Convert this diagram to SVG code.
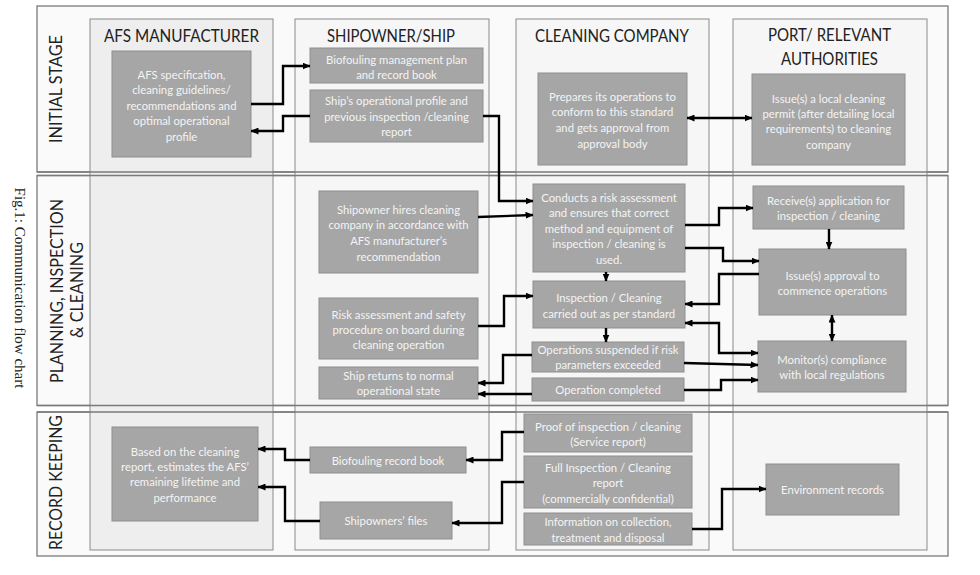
<svg xmlns="http://www.w3.org/2000/svg" width="980" height="575" viewBox="0 0 980 575">
<defs>
<marker id="ah" viewBox="0 0 8 7" refX="7.5" refY="3.5" markerWidth="8" markerHeight="7" markerUnits="userSpaceOnUse" orient="auto-start-reverse">
<path d="M0,0 L8,3.5 L0,7 z" fill="#000"/>
</marker>
<style>
.band{fill:#fafafa;stroke:#7a7a7a;stroke-width:1.3}
.lane{fill:#f6f6f6;stroke:#8a8a8a;stroke-width:1}
.lane.afs{fill:#eeeeee}
.hdr{font-family:Lato,"Open Sans",sans-serif;font-size:17.5px;fill:#222;text-anchor:middle;dominant-baseline:central}
.row{font-family:Lato,"Open Sans",sans-serif;font-size:17.5px;fill:#222;text-anchor:middle;dominant-baseline:central}
.cap{font-family:"Liberation Serif",serif;font-size:15px;fill:#222;text-anchor:middle;dominant-baseline:central}
.box{fill:#a6a6a6;stroke:#8e8e8e;stroke-width:1}
.t{font-family:Lato,"Open Sans",sans-serif;font-size:11.3px;fill:#f4f4f4;text-anchor:middle;dominant-baseline:central}
.c{fill:none;stroke:#000;stroke-width:2.4;marker-end:url(#ah)}
.d{marker-start:url(#ah)}
</style>
</defs>
<rect width="980" height="575" fill="#ffffff"/>

<g id="bands">
<rect class="band" x="37" y="6" width="911" height="166"/>
<rect class="band" x="37" y="175.5" width="911" height="230"/>
<rect class="band" x="37" y="412" width="911" height="144"/>
</g>

<g id="lanes">
<rect class="lane afs" x="90" y="19" width="183" height="531"/>
<rect class="lane" x="295" y="19" width="194" height="531"/>
<rect class="lane" x="516" y="19" width="193" height="531"/>
<rect class="lane" x="733" y="19" width="194" height="531"/>
<line x1="37" y1="172" x2="948" y2="172" stroke="#7a7a7a" stroke-width="1.3"/>
<line x1="37" y1="175.5" x2="948" y2="175.5" stroke="#7a7a7a" stroke-width="1.3"/>
<line x1="37" y1="405.5" x2="948" y2="405.5" stroke="#7a7a7a" stroke-width="1.3"/>
<line x1="37" y1="412" x2="948" y2="412" stroke="#7a7a7a" stroke-width="1.3"/>
</g>

<g id="headers">
<text class="hdr" x="181.5" y="35" textLength="155" lengthAdjust="spacingAndGlyphs">AFS MANUFACTURER</text>
<text class="hdr" x="391" y="35" textLength="128" lengthAdjust="spacingAndGlyphs">SHIPOWNER/SHIP</text>
<text class="hdr" x="612" y="35" textLength="154" lengthAdjust="spacingAndGlyphs">CLEANING COMPANY</text>
<text class="hdr" x="829.5" y="34" textLength="123" lengthAdjust="spacingAndGlyphs">PORT/ RELEVANT</text>
<text class="hdr" x="829.5" y="58" textLength="97" lengthAdjust="spacingAndGlyphs">AUTHORITIES</text>
</g>

<g id="rowlabels">
<text class="row" transform="translate(55,89) rotate(-90)" textLength="108" lengthAdjust="spacingAndGlyphs">INITIAL STAGE</text>
<text class="row" transform="translate(56,291) rotate(-90)" textLength="184" lengthAdjust="spacingAndGlyphs">PLANNING, INSPECTION</text>
<text class="row" transform="translate(76,290) rotate(-90)" textLength="96" lengthAdjust="spacingAndGlyphs">&amp; CLEANING</text>
<text class="row" transform="translate(55,482.5) rotate(-90)" textLength="135" lengthAdjust="spacingAndGlyphs">RECORD KEEPING</text>
<text class="cap" transform="translate(20,288) rotate(90)">Fig.1: Communication flow chart</text>
</g>

<g id="A1"><rect class="box" x="112" y="51" width="139" height="106"/>
<text class="t" x="181.5" y="74">AFS specification,</text>
<text class="t" x="181.5" y="89.5">cleaning guidelines/</text>
<text class="t" x="181.5" y="105">recommendations and</text>
<text class="t" x="181.5" y="120.5">optimal operational</text>
<text class="t" x="181.5" y="136">profile</text></g>

<g id="A2"><rect class="box" x="112" y="427" width="146" height="94"/>
<text class="t" x="185" y="451">Based on the cleaning</text>
<text class="t" x="185" y="466.3">report, estimates the AFS’</text>
<text class="t" x="185" y="481.7">remaining lifetime and</text>
<text class="t" x="185" y="497">performance</text></g>

<g id="S1"><rect class="box" x="310" y="48" width="173" height="35"/>
<text class="t" x="396.5" y="59">Biofouling management plan</text>
<text class="t" x="396.5" y="74">and record book</text></g>

<g id="S2"><rect class="box" x="310" y="90" width="173" height="52"/>
<text class="t" x="396.5" y="100.5">Ship’s operational profile and</text>
<text class="t" x="396.5" y="116">previous inspection /cleaning</text>
<text class="t" x="396.5" y="131.5">report</text></g>

<g id="S3"><rect class="box" x="319" y="191" width="159" height="82"/>
<text class="t" x="398.5" y="209">Shipowner hires cleaning</text>
<text class="t" x="398.5" y="224.7">company in accordance with</text>
<text class="t" x="398.5" y="240.3">AFS manufacturer’s</text>
<text class="t" x="398.5" y="256">recommendation</text></g>

<g id="S4"><rect class="box" x="319" y="298" width="159" height="61"/>
<text class="t" x="398.5" y="314">Risk assessment and safety</text>
<text class="t" x="398.5" y="329">procedure on board during</text>
<text class="t" x="398.5" y="344">cleaning operation</text></g>

<g id="S5"><rect class="box" x="319" y="367" width="159" height="32"/>
<text class="t" x="398.5" y="375.5">Ship returns to normal</text>
<text class="t" x="398.5" y="390.5">operational state</text></g>

<g id="S6"><rect class="box" x="310" y="447" width="156" height="26"/>
<text class="t" x="388" y="460.5">Biofouling record book</text></g>

<g id="S7"><rect class="box" x="320" y="502" width="132" height="37"/>
<text class="t" x="386" y="520.5">Shipowners’ files</text></g>

<g id="C1"><rect class="box" x="538" y="73" width="149" height="92"/>
<text class="t" x="612.5" y="96">Prepares its operations to</text>
<text class="t" x="612.5" y="111.7">conform to this standard</text>
<text class="t" x="612.5" y="127.3">and gets approval from</text>
<text class="t" x="612.5" y="143">approval body</text></g>

<g id="C2"><rect class="box" x="533" y="184" width="152" height="88"/>
<text class="t" x="609" y="197">Conducts a risk assessment</text>
<text class="t" x="609" y="212.5">and ensures that correct</text>
<text class="t" x="609" y="228">method and equipment of</text>
<text class="t" x="609" y="243.5">inspection / cleaning is</text>
<text class="t" x="609" y="259">used.</text></g>

<g id="C3"><rect class="box" x="533" y="281" width="152" height="47"/>
<text class="t" x="609" y="297">Inspection / Cleaning</text>
<text class="t" x="609" y="313">carried out as per standard</text></g>

<g id="C4"><rect class="box" x="532" y="342" width="152" height="30"/>
<text class="t" x="608" y="349.5">Operations suspended if risk</text>
<text class="t" x="608" y="364.5">parameters exceeded</text></g>

<g id="C5"><rect class="box" x="532" y="378" width="152" height="23"/>
<text class="t" x="608" y="389.5">Operation completed</text></g>

<g id="C6"><rect class="box" x="524" y="414" width="168" height="38"/>
<text class="t" x="608" y="426">Proof of inspection / cleaning</text>
<text class="t" x="608" y="441.5">(Service report)</text></g>

<g id="C7"><rect class="box" x="524" y="456" width="168" height="52"/>
<text class="t" x="608" y="467">Full Inspection / Cleaning</text>
<text class="t" x="608" y="482.5">report</text>
<text class="t" x="608" y="498">(commercially confidential)</text></g>

<g id="C8"><rect class="box" x="524" y="513" width="168" height="32"/>
<text class="t" x="608" y="521.5">Information on collection,</text>
<text class="t" x="608" y="537">treatment and disposal</text></g>

<g id="P1"><rect class="box" x="752" y="74" width="153" height="91"/>
<text class="t" x="828.5" y="98">Issue(s) a local cleaning</text>
<text class="t" x="828.5" y="113.3">permit (after detailing local</text>
<text class="t" x="828.5" y="128.7">requirements) to cleaning</text>
<text class="t" x="828.5" y="144">company</text></g>

<g id="P2"><rect class="box" x="753" y="186" width="151" height="43"/>
<text class="t" x="828.5" y="200">Receive(s) application for</text>
<text class="t" x="828.5" y="215">inspection / cleaning</text></g>

<g id="P3"><rect class="box" x="759" y="249" width="147" height="66"/>
<text class="t" x="832.5" y="275">Issue(s) approval to</text>
<text class="t" x="832.5" y="290">commence operations</text></g>

<g id="P4"><rect class="box" x="758" y="341" width="148" height="51"/>
<text class="t" x="832" y="359">Monitor(s) compliance</text>
<text class="t" x="832" y="374">with local regulations</text></g>

<g id="P5"><rect class="box" x="766" y="464" width="133" height="51"/>
<text class="t" x="832.5" y="489.5">Environment records</text></g>

<g id="connectors">
<path class="c" d="M251,104 H283 V66 H310"/>
<path class="c" d="M310,116 H283 V131 H251"/>
<path class="c" d="M483,116 H499 V201 H533"/>
<path class="c" d="M478,217 L533,215"/>
<path class="c" d="M478,326 H504 V296 H533"/>
<path class="c" d="M532,355 H503 V383 H478"/>
<path class="c" d="M532,394 H478"/>
<path class="c" d="M606,272 V281"/>
<path class="c" d="M606,328 V342"/>
<path class="c" d="M685,225 H719 V208 H753"/>
<path class="c" d="M685,248 H723 V261 H759"/>
<path class="c" d="M759,274 H719 V304 H685"/>
<path class="c" d="M829,229 V249"/>
<path class="c d" d="M832,315 V341"/>
<path class="c d" d="M685,323 H719 V353 H758"/>
<path class="c" d="M684,363 L758,365"/>
<path class="c" d="M684,390 H721 V380 H758"/>
<path class="c d" d="M687,118 H752"/>
<path class="c" d="M524,432 H502 V460 H466"/>
<path class="c" d="M524,482 H502 V523 H452"/>
<path class="c" d="M310,460 H285 V449 H258"/>
<path class="c" d="M320,521 H285 V487 H258"/>
<path class="c" d="M692,529 H722 V489 H766"/>
</g>
</svg>
